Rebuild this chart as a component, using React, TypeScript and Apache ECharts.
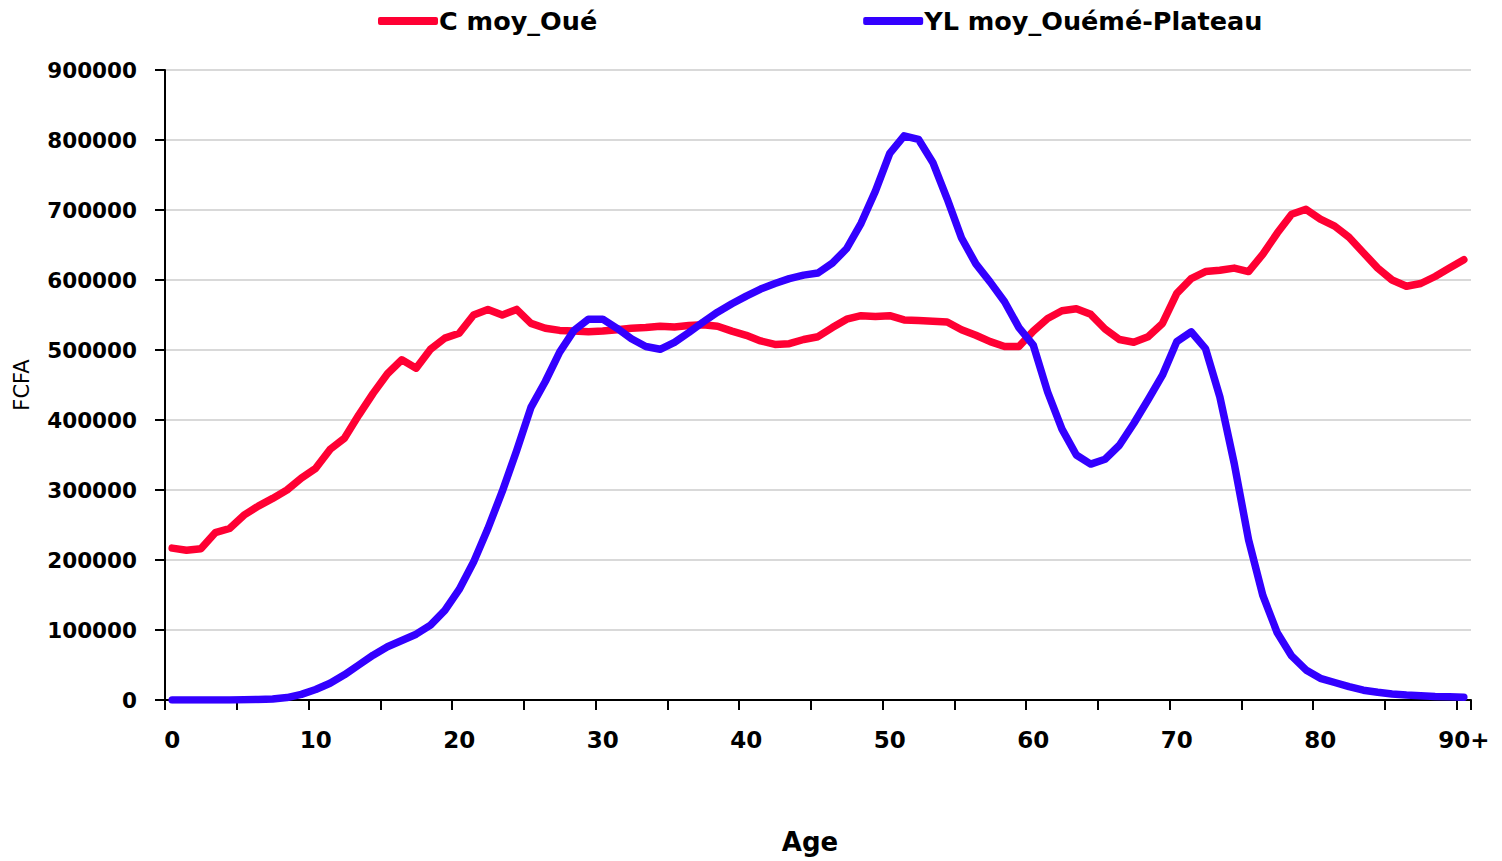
import React, { useEffect, useRef } from "react";
import * as echarts from "echarts";

const ages: string[] = [];
for (let i = 0; i < 90; i++) ages.push(String(i));
ages.push("90+");

const seriesNames = ["C moy_Oué", "YL moy_Ouémé-Plateau"];

const cMoy = [
  217000, 214000, 216000, 239000, 245000, 264000, 277000, 288000, 300000, 317000,
  331000, 358000, 374000, 407000, 438000, 466000, 486000, 474000, 501000, 517000,
  524000, 550000, 558000, 550000, 558000, 538000, 531000, 528000, 527000, 526000,
  527000, 529000, 531000, 532000, 534000, 533000, 535000, 536000, 534000, 527000,
  521000, 513000, 508000, 509000, 515000, 519000, 532000, 544000, 549000, 548000,
  549000, 543000, 542000, 541000, 540000, 529000, 521000, 512000, 505000, 505000,
  527000, 545000, 556000, 559000, 551000, 530000, 515000, 511000, 519000, 538000,
  581000, 602000, 612000, 614000, 617000, 612000, 637000, 667000, 694000, 701000,
  687000, 677000, 661000, 639000, 617000, 600000, 591000, 595000, 605000, 617000,
  629000,
];

const ylMoy = [
  0, 0, 0, 0, 0, 300, 700, 1500, 3500, 8000,
  15000, 24000, 36000, 50000, 64000, 76000, 85000, 94000, 107000, 128000,
  158000, 197000, 245000, 298000, 356000, 418000, 455000, 497000, 528000, 544000,
  544000, 531000, 516000, 505000, 501000, 511000, 525000, 540000, 554000, 566000,
  577000, 587000, 595000, 602000, 607000, 610000, 624000, 645000, 681000, 727000,
  781000, 806000, 801000, 768000, 716000, 660000, 623000, 597000, 569000, 532000,
  507000, 440000, 387000, 350000, 337000, 344000, 364000, 395000, 429000, 464000,
  512000, 526000, 502000, 433000, 338000, 229000, 149000, 96000, 63000, 43000,
  31000, 25000, 19000, 14000, 11000, 8500, 7000, 6000, 5000, 4500,
  4000,
];

const FONT = "DejaVu Sans";

export default function App() {
  const ref = useRef<HTMLDivElement>(null);
  useEffect(() => {
    document.body.style.margin = "0";
    if (!ref.current) return;
    const chart = echarts.init(ref.current, undefined, { renderer: "svg" });
    chart.setOption({
      animation: false,
      backgroundColor: "#ffffff",
      legend: {
        left: 378,
        top: 8,
        padding: 0,
        icon: "roundRect",
        itemWidth: 60,
        itemHeight: 8,
        itemGap: 266,
        textStyle: {
          fontFamily: FONT,
          fontWeight: "bold",
          fontSize: 25.5,
          color: "#000",
          padding: [0, 0, 0, -4],
        },
        data: seriesNames,
      },
      grid: { left: 165, right: 31, top: 70, bottom: 161, containLabel: false },
      xAxis: {
        type: "category",
        data: ages,
        boundaryGap: true,
        name: "Age",
        nameLocation: "middle",
        nameGap: 129,
        nameTextStyle: {
          fontFamily: FONT,
          fontWeight: "bold",
          fontSize: 26,
          color: "#000",
          padding: [0, 16, 0, 0],
        },
        axisLine: { lineStyle: { color: "#000", width: 2 } },
        axisTick: { show: true, interval: 4, length: 10, lineStyle: { color: "#000", width: 2 } },
        axisLabel: {
          interval: 9,
          margin: 28,
          fontFamily: FONT,
          fontWeight: "bold",
          fontSize: 23,
          color: "#000",
        },
        splitLine: { show: false },
      },
      yAxis: {
        type: "value",
        min: 0,
        max: 900000,
        interval: 100000,
        name: "FCFA",
        nameLocation: "middle",
        nameRotate: 90,
        nameGap: 133,
        nameTextStyle: { fontFamily: FONT, fontSize: 21, color: "#000" },
        axisLine: { show: true, lineStyle: { color: "#000", width: 2 } },
        axisTick: { show: true, length: 10, lineStyle: { color: "#000", width: 2 } },
        axisLabel: {
          margin: 28,
          fontFamily: FONT,
          fontWeight: "bold",
          fontSize: 21.5,
          color: "#000",
          formatter: (v: number) => String(v),
        },
        splitLine: { show: true, lineStyle: { color: "#d9d9d9", width: 2 } },
      },
      series: [
        {
          name: seriesNames[0],
          type: "line",
          data: cMoy,
          symbol: "none",
          smooth: false,
          itemStyle: { color: "#FF0033" },
          lineStyle: { color: "#FF0033", width: 7.5, cap: "round", join: "round" },
        },
        {
          name: seriesNames[1],
          type: "line",
          data: ylMoy,
          symbol: "none",
          smooth: false,
          itemStyle: { color: "#3300FF" },
          lineStyle: { color: "#3300FF", width: 7.5, cap: "round", join: "round" },
        },
      ],
    });
    return () => chart.dispose();
  }, []);
  return <div ref={ref} style={{ width: 1502, height: 861 }} />;
}
